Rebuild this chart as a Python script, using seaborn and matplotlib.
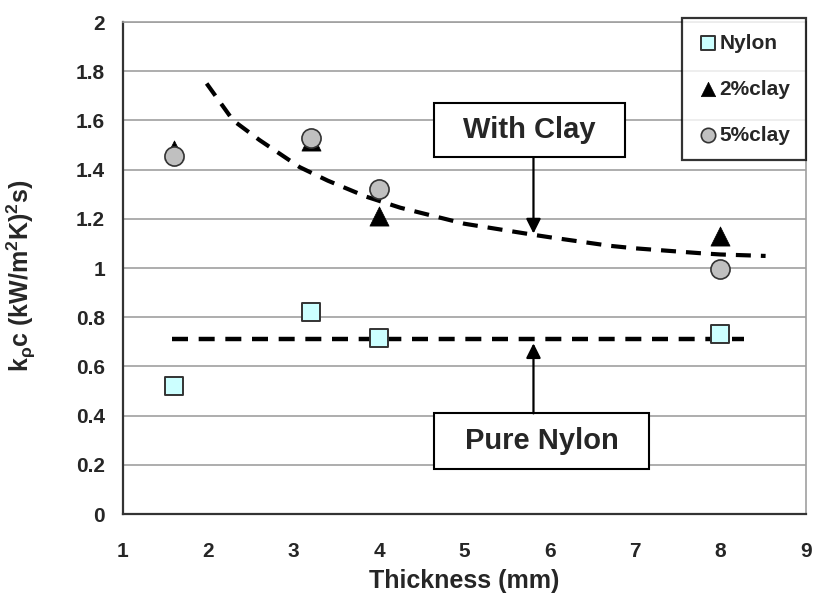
import matplotlib
matplotlib.use("Agg")
import matplotlib.pyplot as plt
import seaborn as sns
import pandas as pd
from matplotlib.patches import Rectangle

# ---- data ----
thickness = [1.6, 3.2, 4.0, 8.0]
nylon = [0.52, 0.82, 0.715, 0.73]
clay2 = [1.48, 1.515, 1.21, 1.13]
clay5 = [1.455, 1.53, 1.32, 0.995]

fit_clay_x = [1.98, 2.29, 2.6, 3.07, 3.4, 3.85, 4.25, 5.0, 5.81, 6.0, 6.71, 7.0, 7.77, 8.0, 8.53]
fit_clay_y = [1.75, 1.60, 1.52, 1.41, 1.355, 1.29, 1.245, 1.18, 1.135, 1.125, 1.09, 1.08, 1.06, 1.055, 1.049]
fit_nylon_x = [1.58, 8.28]
fit_nylon_y = [0.712, 0.712]

series_labels = ["Nylon", "2%clay", "5%clay"]
x_ticks = [1, 2, 3, 4, 5, 6, 7, 8, 9]
y_ticks = [0, 0.2, 0.4, 0.6, 0.8, 1.0, 1.2, 1.4, 1.6, 1.8, 2.0]
y_tick_labels = ["0", "0.2", "0.4", "0.6", "0.8", "1", "1.2", "1.4", "1.6", "1.8", "2"]

# annotation boxes (data coords): (x0, x1, y0, y1), arrow x, arrow tip y
clay_box = (4.64, 6.88, 1.45, 1.67)
clay_arrow = (5.81, 1.14)
nylon_box = (4.65, 7.16, 0.184, 0.409)
nylon_arrow = (5.81, 0.694)

sns.set_style("white")
plt.rcParams["font.family"] = ["Liberation Sans", "DejaVu Sans"]
plt.rcParams["mathtext.fontset"] = "custom"
plt.rcParams["mathtext.rm"] = "Liberation Sans:bold"
plt.rcParams["mathtext.it"] = "Liberation Sans:bold"
plt.rcParams["mathtext.bf"] = "Liberation Sans:bold"
plt.rcParams["mathtext.default"] = "rm"

fig = plt.figure(figsize=(8.15, 5.98), dpi=100)
ax = fig.add_axes([123 / 815, (598 - 514) / 598, (805.7 - 123) / 815, (514 - 22) / 598])

df = pd.DataFrame({"t": thickness, "nylon": nylon, "clay2": clay2, "clay5": clay5})

# fit lines
dash = (0, (3.6, 2.4))
sns.lineplot(x=fit_clay_x, y=fit_clay_y, ax=ax, color="black", lw=3, linestyle=dash,
             sort=False, estimator=None, zorder=3)
sns.lineplot(x=fit_nylon_x, y=fit_nylon_y, ax=ax, color="black", lw=3.2, linestyle=dash,
             sort=False, estimator=None, zorder=3)

sns.scatterplot(data=df, x="t", y="nylon", ax=ax, marker="s", s=170,
                color="#ccffff", edgecolor="#333333", linewidth=1.4, zorder=4,
                label=series_labels[0])
sns.scatterplot(data=df, x="t", y="clay2", ax=ax, marker="^", s=190,
                color="black", edgecolor="black", linewidth=0.5, zorder=4,
                label=series_labels[1])
sns.scatterplot(data=df, x="t", y="clay5", ax=ax, marker="o", s=190,
                color="#c0c0c0", edgecolor="#333333", linewidth=1.2, zorder=5,
                label=series_labels[2])

ax.set_xlim(1, 9)
ax.set_ylim(0, 2)
ax.set_xticks(x_ticks)
ax.set_xticklabels([str(v) for v in x_ticks])
ax.set_yticks(y_ticks)
ax.set_yticklabels(y_tick_labels)
ax.yaxis.grid(True, color="#a0a0a0", lw=1.2)
ax.xaxis.grid(False)
ax.set_axisbelow(True)

for side in ["left", "bottom"]:
    ax.spines[side].set_color("#333333")
    ax.spines[side].set_linewidth(1.6)
for side in ["top", "right"]:
    ax.spines[side].set_color("#a0a0a0")
    ax.spines[side].set_linewidth(1.2)

ax.tick_params(axis="both", direction="in", length=5, width=1.3, color="#333333",
               labelsize=15)
ax.tick_params(axis="x", pad=20)
ax.tick_params(axis="y", pad=13)
for lab in ax.get_xticklabels() + ax.get_yticklabels():
    lab.set_fontweight("bold")

ax.set_xlabel("Thickness (mm)", fontsize=18, fontweight="bold")
ax.set_ylabel(r"k$_{\rho}$c (kW/m$^{2}$K)$^{2}$s)", fontsize=18, fontweight="bold")
ax.xaxis.set_label_coords(0.5, -0.112)
ax.yaxis.set_label_coords(-0.125, 0.485)

# annotation boxes with arrows
for (x0, x1, y0, y1), text in [(clay_box, "With Clay"), (nylon_box, "Pure Nylon")]:
    ax.add_patch(Rectangle((x0, y0), x1 - x0, y1 - y0, facecolor="white",
                           edgecolor="black", lw=1.5, zorder=6))
    ax.text((x0 + x1) / 2, (y0 + y1) / 2, text, ha="center", va="center",
            fontsize=21, fontweight="bold", zorder=7)

ax.annotate("", xy=clay_arrow, xytext=(clay_arrow[0], clay_box[2]),
            arrowprops=dict(arrowstyle="-|>", mutation_scale=22, lw=1.6, color="black",
                            shrinkA=0, shrinkB=0), zorder=6)
ax.annotate("", xy=nylon_arrow, xytext=(nylon_arrow[0], nylon_box[3]),
            arrowprops=dict(arrowstyle="-|>", mutation_scale=22, lw=1.6, color="black",
                            shrinkA=0, shrinkB=0), zorder=6)

leg = ax.legend(loc="upper right", bbox_to_anchor=(1.0, 1.008), frameon=True,
                fancybox=False, prop={"weight": "bold", "size": 15},
                handletextpad=0.05, handlelength=1.0, borderpad=0.75,
                labelspacing=1.3, markerscale=0.75, borderaxespad=0)
leg.get_frame().set_edgecolor("black")
leg.get_frame().set_linewidth(1.6)
leg.set_zorder(10)

fig.savefig("out.png", dpi=100)
